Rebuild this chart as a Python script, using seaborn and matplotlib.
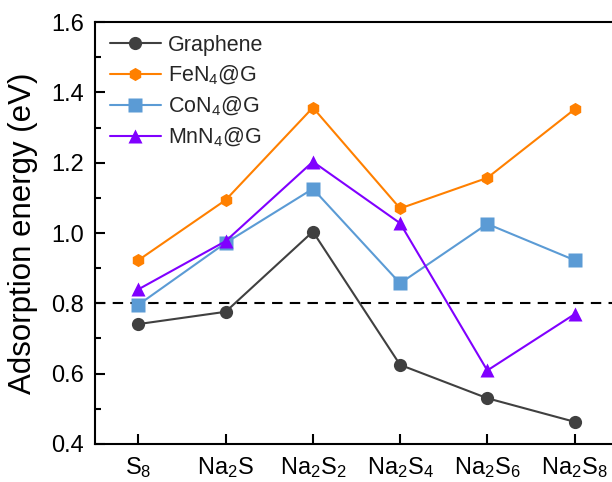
import pandas as pd
import matplotlib
matplotlib.use("Agg")
import matplotlib.pyplot as plt
import seaborn as sns
from matplotlib.ticker import MultipleLocator

sns.set_theme(style="ticks")
plt.rcParams['font.family'] = ['Liberation Sans', 'DejaVu Sans']
plt.rcParams['mathtext.fontset'] = 'custom'
plt.rcParams['mathtext.rm'] = 'Liberation Sans'
plt.rcParams['mathtext.it'] = 'Liberation Sans'

# data
species = [r'S$_8$', r'Na$_2$S', r'Na$_2$S$_2$', r'Na$_2$S$_4$', r'Na$_2$S$_6$', r'Na$_2$S$_8$']
graphene = [0.741, 0.776, 1.004, 0.625, 0.530, 0.463]
fen4 = [0.923, 1.094, 1.357, 1.070, 1.157, 1.352]
con4 = [0.796, 0.972, 1.126, 0.857, 1.026, 0.923]
mnn4 = [0.840, 0.977, 1.203, 1.028, 0.609, 0.769]
series_names = ['Graphene', r'FeN$_4$@G', r'CoN$_4$@G', r'MnN$_4$@G']
threshold = 0.8

df = pd.DataFrame({'species': species, series_names[0]: graphene, series_names[1]: fen4,
                   series_names[2]: con4, series_names[3]: mnn4})
df['pos'] = range(len(species))
long_df = df.melt(id_vars=['species', 'pos'], var_name='catalyst', value_name='energy')

colors = {series_names[0]: '#404040', series_names[1]: '#FF8000',
          series_names[2]: '#5B9BD5', series_names[3]: '#8000FF'}
markers = {series_names[0]: 'o', series_names[1]: 'h',
           series_names[2]: 's', series_names[3]: '^'}

fig = plt.figure(figsize=(6.12, 4.82), dpi=100)
ax = fig.add_axes([0.155, 0.079, 0.855, 0.875])

ax.axhline(threshold, color='black', linestyle=(0, (5, 3.5)), linewidth=1.5, zorder=1)

sns.lineplot(data=long_df, x='pos', y='energy', hue='catalyst', style='catalyst',
             palette=colors, markers=markers, dashes=False, markersize=9.5,
             markeredgecolor='none', linewidth=1.5, ax=ax, sort=False, zorder=3)

ax.set_xlim(-0.5, 5.5)
ax.set_ylim(0.4, 1.6)
ax.set_xticks(range(len(species)))
ax.set_xticklabels(species)
ax.yaxis.set_major_locator(MultipleLocator(0.2))
ax.yaxis.set_minor_locator(MultipleLocator(0.1))
ax.set_yticklabels([f'{v:.1f}' for v in ax.get_yticks()])
ax.tick_params(axis='both', which='major', direction='in', length=7, width=1.5,
               labelsize=17, color='black', labelcolor='black', pad=8)
ax.tick_params(axis='y', which='minor', direction='in', length=4, width=1.5, color='black')
ax.set_xlabel('')
ax.set_ylabel('Adsorption energy (eV)', fontsize=22.5, color='black', labelpad=9)
for s in ax.spines.values():
    s.set_linewidth(1.5)
    s.set_color('black')

handles, labels = ax.get_legend_handles_labels()
ax.legend(handles, labels, loc='upper left', frameon=False, fontsize=15.5,
          handlelength=2.4, handletextpad=0.3, labelspacing=0.37,
          bbox_to_anchor=(-0.009, 1.016))

fig.savefig('out.png', dpi=100)
